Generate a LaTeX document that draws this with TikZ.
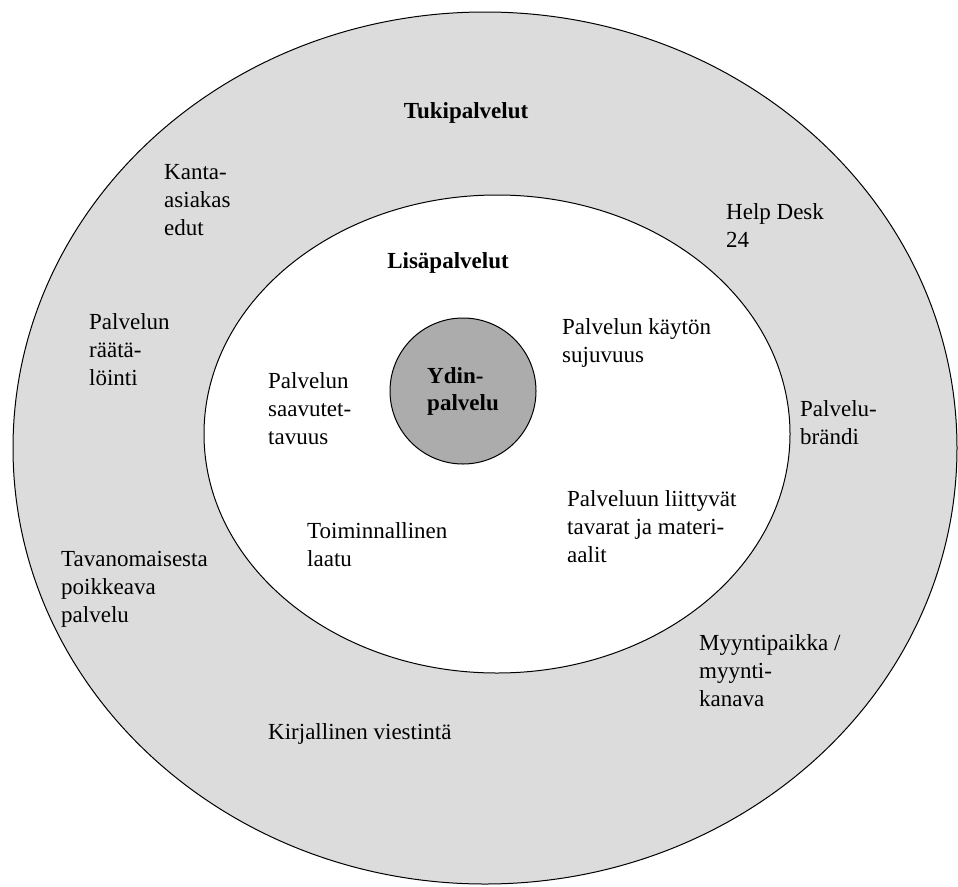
\documentclass[tikz,border=0pt]{standalone}
\usepackage{fontspec}
\setmainfont{Liberation Serif}
\definecolor{tukigray}{RGB}{220,220,220}
\definecolor{ydingray}{RGB}{172,172,172}
\begin{document}
\begin{tikzpicture}[x=1pt, y=-1pt,
    txt/.style={anchor=west, inner sep=0pt, align=left, font=\fontsize{23}{28}\selectfont},
    otsikko/.style={inner sep=0pt, font=\fontsize{23}{28}\selectfont\bfseries},
    ydin/.style={circle, draw, line width=1pt, fill=ydingray, minimum size=146pt, inner sep=0pt, align=left, font=\fontsize{23}{27}\selectfont\bfseries}]

    \useasboundingbox (0,0) rectangle (958,886);
    \fill [white] (0,0) rectangle (958,886);

    \draw [line width=1pt, fill=tukigray] (485,448) ellipse [x radius=472, y radius=436];
    \draw [line width=1pt, fill=white] (497,434) ellipse [x radius=293, y radius=239];
    \node [ydin] (ydinpalvelu) at (463,391) {Ydin-\\palvelu};

    \node [otsikko] (tuki) at (466,113) {Tukipalvelut};
    \node [otsikko] (lisa) at (448,263) {Lisäpalvelut};

    \node [txt] (kanta) at (164,200.5) {Kanta-\\asiakas\\edut};
    \node [txt] (helpdesk) at (726,226) {Help Desk\\24};
    \node [txt] (raatalointi) at (89,349.5) {Palvelun\\räätä-\\löinti};
    \node [txt] (brandi) at (800,422.5) {Palvelu-\\brändi};
    \node [txt] (poikkeava) at (61,589) {Tavanomaisesta\\poikkeava\\palvelu};
    \node [txt] (myyntipaikka) at (699,670.5) {Myyntipaikka /\\myynti-\\kanava};
    \node [txt] (viestinta) at (268,734) {Kirjallinen viestintä};

    \node [txt] (sujuvuus) at (562,343) {Palvelun käytön\\sujuvuus};
    \node [txt] (saavutettavuus) at (268,408.5) {Palvelun\\saavutet-\\tavuus};
    \node [txt] (tavarat) at (567,526.5) {Palveluun liittyvät\\tavarat ja materi-\\aalit};
    \node [txt] (laatu) at (307,545) {Toiminnallinen\\laatu};

\end{tikzpicture}
\end{document}
